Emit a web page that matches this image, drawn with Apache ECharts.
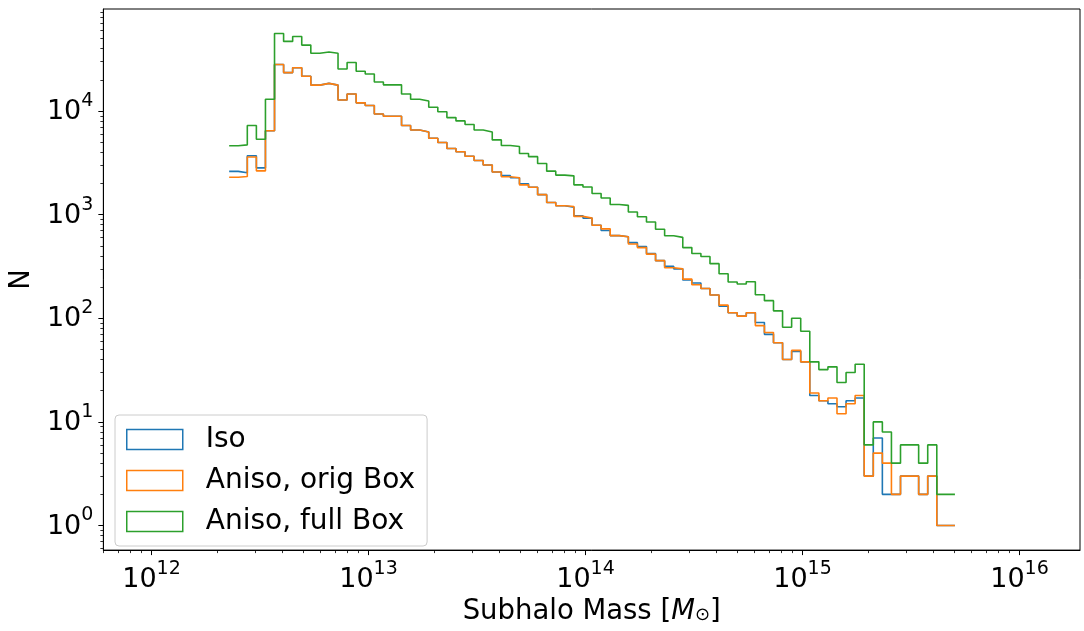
<!DOCTYPE html>
<html>
<head>
<meta charset="utf-8">
<script src="https://cdn.jsdelivr.net/npm/echarts@6/dist/echarts.min.js"></script>
<style>
  html, body { margin: 0; padding: 0; background: #fff; }
  #chart { width: 1084px; height: 631px; }
</style>
</head>
<body>
<div id="chart"></div>
<script>
// ---- Data ----
// Histogram bins: 80 log-spaced bins between massMin and massMax (solar masses)
const massMin = 2.28e12;
const massMax = 5.04e15;
const nBins = 80;

const seriesNames = ['Iso', 'Aniso, orig Box', 'Aniso, full Box'];

const isoCounts = [
  2620, 2540, 3710, 2830, 6460, 28100, 23500, 26200, 21700, 17800,
  18500, 17800, 12800, 14600, 12000, 11300, 9370, 8910, 8910, 7250,
  6560, 6280, 5460, 4970, 4350, 4050, 3660, 3330, 3020, 2580,
  2380, 2270, 1990, 1840, 1560, 1310, 1220, 1180, 977, 927,
  790, 704, 628, 612, 537, 492, 422, 360, 318, 300,
  234, 219, 194, 168, 131, 113, 105, 113, 91, 70,
  58, 40, 48, 38, 18, 16, 15, 14, 16, 17,
  3, 7, 2, 2, 3, 3, 2, 3, 1, 1
];

const anisoOrigCounts = [
  2300, 2340, 3600, 2650, 6460, 28100, 23500, 26200, 21700, 17800,
  18500, 17800, 12800, 14600, 12000, 11300, 9370, 8910, 8910, 7250,
  6560, 6280, 5460, 4970, 4350, 4050, 3660, 3330, 3020, 2580,
  2320, 2270, 1940, 1840, 1560, 1310, 1220, 1200, 963, 927,
  790, 730, 628, 612, 522, 481, 416, 360, 308, 300,
  239, 211, 194, 168, 134, 113, 105, 113, 85, 73,
  58, 40, 49, 38, 19, 16, 17, 12, 15, 18,
  3, 5, 4, 2, 3, 3, 2, 3, 1, 1
];

const anisoFullCounts = [
  4620, 4720, 7250, 5340, 13000, 56000, 47000, 52400, 43300, 36100,
  37200, 36100, 25500, 29400, 24200, 22800, 19100, 17900, 17900, 14600,
  13000, 12500, 10900, 9860, 8650, 8040, 7420, 6560, 6280, 5270,
  4650, 4550, 3900, 3630, 3120, 2630, 2410, 2370, 1940, 1850,
  1600, 1450, 1255, 1230, 1060, 955, 849, 724, 626, 604,
  481, 422, 395, 337, 269, 224, 214, 225, 169, 148,
  118, 82, 100, 75, 38, 32, 34, 24, 30, 36,
  6, 10, 8, 4, 6, 6, 4, 6, 2, 2
];

const xMajorTicks = [1e12, 1e13, 1e14, 1e15, 1e16];
const yMajorTicks = [1, 10, 100, 1000, 10000];

// ---- Build histogram outline ----
const lMin = Math.log10(massMin), lMax = Math.log10(massMax);
const binEdges = [];
for (let i = 0; i <= nBins; i++) binEdges.push(Math.pow(10, lMin + (lMax - lMin) * i / nBins));

function stepData(counts) {
  const d = counts.map((c, i) => [binEdges[i], c]);
  d.push([binEdges[nBins], counts[counts.length - 1]]);
  return d;
}

function minorTicks(d0, d1, lo, hi) {
  const out = [];
  for (let d = d0; d <= d1; d++) {
    for (let k = 2; k <= 9; k++) {
      const v = k * Math.pow(10, d);
      if (v >= lo && v <= hi) out.push(v);
    }
  }
  return out;
}

const xMin = 6e11, xMax = 1.9e16;
const yMin = Math.pow(10, -0.237), yMax = Math.pow(10, 4.985);

const FONT = 'DejaVu Sans';
const colors = ['#1f77b4', '#ff7f0e', '#2ca02c'];

function powLabel(v) {
  const e = Math.round(Math.log10(v));
  return '{b|10}{s|' + e + '}';
}
const powRich = {
  b: { fontFamily: FONT, fontSize: 27, color: '#000', padding: [7, 0, 5, 0] },
  s: { fontFamily: FONT, fontSize: 19, color: '#000', verticalAlign: 'top' }
};

const chart = echarts.init(document.getElementById('chart'), null, { renderer: 'canvas' });

const option = {
  animation: false,
  backgroundColor: '#fff',
  grid: {
    left: 101, right: 4, top: 9, bottom: 73,
    show: true, borderColor: '#000', borderWidth: 1, backgroundColor: 'transparent'
  },
  legend: {
    orient: 'vertical',
    left: 115, top: 415,
    padding: [10, 12, 10, 11],
    itemGap: 12,
    itemWidth: 56, itemHeight: 20,
    icon: 'rect',
    backgroundColor: 'rgba(255,255,255,0.8)',
    borderColor: '#cccccc', borderWidth: 1, borderRadius: 4,
    textStyle: { fontFamily: FONT, fontSize: 28, color: '#000', lineHeight: 29, padding: [0, 0, 0, 18] },
    data: seriesNames.map((n, i) => ({
      name: n,
      itemStyle: { color: 'rgba(0,0,0,0)', borderColor: colors[i], borderWidth: 1.5 }
    }))
  },
  xAxis: [
    {
      type: 'log', min: xMin, max: xMax, position: 'bottom',
      name: 'Subhalo Mass [{i|M}{sub|⊙}{t|]}',
      nameLocation: 'middle', nameGap: 36,
      nameTextStyle: {
        fontFamily: FONT, fontSize: 27.5, color: '#000', verticalAlign: 'top',
        rich: {
          i: { fontFamily: FONT, fontSize: 27.5, fontStyle: 'italic', color: '#000' },
          sub: { fontFamily: FONT, fontSize: 18, color: '#000', padding: [0, 0, -6, 0] },
          t: { fontFamily: FONT, fontSize: 27.5, color: '#000' }
        }
      },
      axisLine: { show: true, lineStyle: { color: '#000', width: 1 } },
      axisTick: { show: true, inside: false, length: 5, lineStyle: { color: '#000', width: 1 }, customValues: xMajorTicks },
      axisLabel: { show: true, margin: 9, formatter: powLabel, rich: powRich, customValues: xMajorTicks },
      splitLine: { show: false }, minorTick: { show: false }
    },
    {
      type: 'log', min: xMin, max: xMax, position: 'bottom', offset: 0,
      axisLine: { show: false },
      axisTick: { show: true, inside: false, length: 3, lineStyle: { color: '#000', width: 0.8 }, customValues: minorTicks(11, 16, xMin, xMax) },
      axisLabel: { show: false },
      splitLine: { show: false }
    }
  ],
  yAxis: [
    {
      type: 'log', min: yMin, max: yMax, position: 'left',
      name: 'N', nameLocation: 'middle', nameGap: 65, nameRotate: 90,
      nameTextStyle: { fontFamily: FONT, fontSize: 27.5, color: '#000' },
      axisLine: { show: true, lineStyle: { color: '#000', width: 1 } },
      axisTick: { show: true, inside: false, length: 5, lineStyle: { color: '#000', width: 1 }, customValues: yMajorTicks },
      axisLabel: { show: true, margin: 10, formatter: powLabel, rich: powRich, customValues: yMajorTicks },
      splitLine: { show: false }, minorTick: { show: false }
    },
    {
      type: 'log', min: yMin, max: yMax, position: 'left', offset: 0,
      axisLine: { show: false },
      axisTick: { show: true, inside: false, length: 3, lineStyle: { color: '#000', width: 0.8 }, customValues: minorTicks(-1, 4, yMin, yMax) },
      axisLabel: { show: false },
      splitLine: { show: false }
    }
  ],
  series: [
    { name: seriesNames[0], data: stepData(isoCounts), color: colors[0] },
    { name: seriesNames[1], data: stepData(anisoOrigCounts), color: colors[1] },
    { name: seriesNames[2], data: stepData(anisoFullCounts), color: colors[2] }
  ].map((s, i) => ({
    type: 'line', name: s.name, data: s.data, step: 'end', symbol: 'none',
    xAxisIndex: 0, yAxisIndex: 0, clip: true, z: 2 + i,
    lineStyle: { color: s.color, width: 1.6 },
    itemStyle: { color: s.color }
  }))
};

chart.setOption(option);
</script>
</body>
</html>
